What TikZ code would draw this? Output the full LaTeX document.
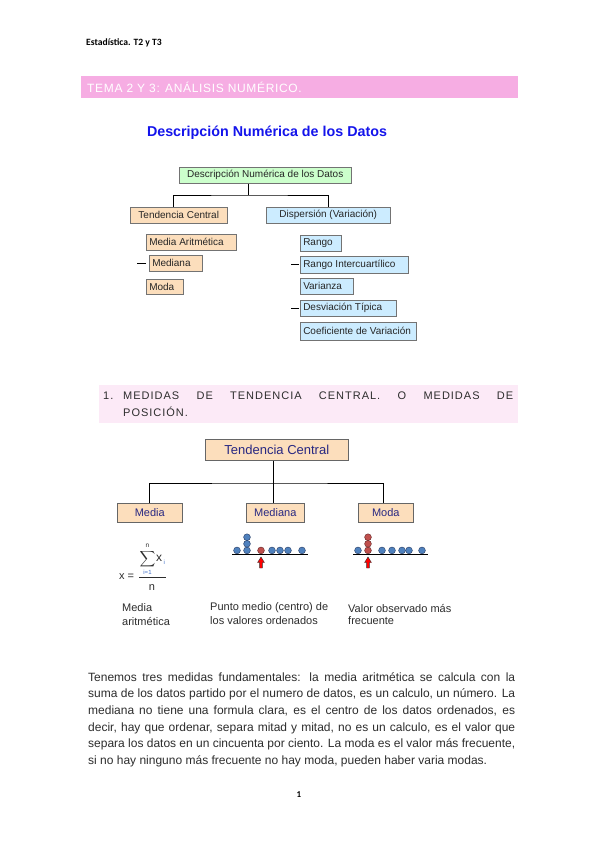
\documentclass[tikz,border=0pt]{standalone}
\usepackage{amsmath}
\usepackage{fontspec}
\setmainfont{Liberation Sans}
\newfontfamily\hdrfont{Carlito}
\newfontfamily\bandfont[LetterSpace=5.5]{Liberation Sans}
\newfontfamily\secfont[LetterSpace=9]{Liberation Sans}
\usetikzlibrary{calc}
\definecolor{bandpink}{RGB}{246,173,227}
\definecolor{secpink}{RGB}{252,234,247}
\definecolor{titleblue}{RGB}{20,20,235}
\definecolor{boxgreen}{RGB}{204,255,204}
\definecolor{boxpeach}{RGB}{252,222,188}
\definecolor{boxblue}{RGB}{204,236,255}
\definecolor{navy}{RGB}{40,40,130}
\definecolor{dotblue}{RGB}{79,129,189}
\definecolor{dotblueline}{RGB}{35,55,95}
\definecolor{dotred}{RGB}{192,80,77}
\definecolor{dotredline}{RGB}{95,35,35}
\definecolor{txt}{RGB}{45,45,45}
\definecolor{subblue}{RGB}{60,110,200}
\newcommand\dotB[2]{\filldraw[fill=dotblue,draw=dotblueline,line width=0.4pt] (#1,#2) circle[radius=3.4];}
\newcommand\dotR[2]{\filldraw[fill=dotred,draw=dotredline,line width=0.4pt] (#1,#2) circle[radius=3.4];}
\newcommand\upArr[1]{\filldraw[fill=red,draw=black!80,line width=0.4pt] (#1-1.4,568) -- (#1-1.4,562.5) -- (#1-3.4,562.5) -- (#1,557) -- (#1+3.4,562.5) -- (#1+1.4,562.5) -- (#1+1.4,568) -- cycle;}
\tikzset{
  txtnode/.style={inner sep=0pt, anchor=west, text=txt},
  dbox/.style={draw=black!55, line width=0.5pt, anchor=north west, inner xsep=3pt, inner ysep=0pt, font=\fontsize{10}{12}\selectfont, text=black!85},
  ebox/.style={draw=black!60, line width=0.6pt, anchor=north west, inner sep=0pt, fill=boxpeach, text=navy},
  conn/.style={draw=black, line width=0.8pt},
  para/.style={inner sep=0pt, anchor=west, text=txt, font=\fontsize{12}{14}\selectfont},
  capt/.style={inner sep=0pt, anchor=west, text=txt, font=\fontsize{11}{13}\selectfont},
}
\begin{document}
\begin{tikzpicture}[x=1pt,y=-1pt]
\useasboundingbox (0,0) rectangle (599,848);
\fill[white] (0,0) rectangle (599,848);

% header
\node[inner sep=0pt, anchor=west, text=black, font=\hdrfont\bfseries\fontsize{9.6}{11}\selectfont] (hdr) at (86,43) {Estadística. T2 y T3};

% pink band
\fill[bandpink] (81,76) rectangle (518,98);
\node[inner sep=0pt, anchor=west, text=white, font=\bandfont\fontsize{12}{14}\selectfont] (band) at (87,87.5) {TEMA 2 Y 3: ANÁLISIS NUMÉRICO.};

% title
\node[inner sep=0pt, text=titleblue, font=\bfseries\fontsize{14.3}{16}\selectfont] (title) at (267,133) {Descripción Numérica de los Datos};

% diagram 1
\node[dbox, fill=boxgreen, minimum width=172pt, minimum height=16pt] (desc) at (179,167) {Descripción Numérica de los Datos};
\node[dbox, fill=boxpeach, minimum width=97pt, minimum height=16pt] (tc) at (130,207) {Tendencia Central};
\node[dbox, fill=boxblue, minimum width=124pt, minimum height=16pt] (disp) at (266,207) {Dispersión (Variación)};

\node[dbox, fill=boxpeach, minimum height=16pt] (ma) at (146,234) {\makebox[84pt][l]{Media Aritmética}};
\node[dbox, fill=boxpeach, minimum height=16pt] (med) at (149,255) {\makebox[47pt][l]{Mediana}};
\node[dbox, fill=boxpeach, minimum height=15pt] (moda) at (146,279) {\makebox[31pt][l]{Moda}};

\node[dbox, fill=boxblue, minimum height=16pt] (rango) at (300,235) {\makebox[35pt][l]{Rango}};
\node[dbox, fill=boxblue, minimum height=17pt] (ri) at (300,256) {\makebox[102pt][l]{Rango Intercuartílico}};
\node[dbox, fill=boxblue, minimum height=16pt] (var) at (300,278) {\makebox[47pt][l]{Varianza}};
\node[dbox, fill=boxblue, minimum height=16pt] (dt) at (300,300) {\makebox[90pt][l]{Desviación Típica}};
\node[dbox, fill=boxblue, minimum height=18pt] (cv) at (300,322) {\makebox[110pt][l]{Coeficiente de Variación}};

\coordinate (j1) at (248,195);
\draw[line width=0.7pt] (j1 |- desc.south) -- (j1);
\draw[line width=0.7pt] ([xshift=-5.5pt]tc.north) |- (j1) -| (disp.north);

\draw[line width=0.7pt] ([xshift=-3pt]med.west) -- ++(-9,0);
\draw[line width=0.7pt] ([xshift=-1pt]ri.west) -- ++(-8,0);
\draw[line width=0.7pt] ([xshift=-1pt]dt.west) -- ++(-8,0);

% section heading
\fill[secpink] (99,385) rectangle (518,423);
\node[inner sep=0pt, anchor=west, text=txt, font=\secfont\fontsize{11}{13}\selectfont] (sec1) at (103,395.5) {1.};
\node[inner sep=0pt, anchor=west, text=txt, font=\secfont\fontsize{11}{13}\selectfont] (sec2) at (123,395.5) {\makebox[390pt][s]{MEDIDAS DE TENDENCIA CENTRAL. O MEDIDAS DE}};
\node[inner sep=0pt, anchor=west, text=txt, font=\secfont\fontsize{11}{13}\selectfont] (sec3) at (123,411.5) {POSICIÓN.};

% diagram 2
\node[ebox, minimum width=143pt, minimum height=21pt, font=\fontsize{13}{15}\selectfont] (tc2) at (205,439) {Tendencia Central};
\node[ebox, minimum width=65pt, minimum height=19pt, font=\fontsize{11}{13}\selectfont] (media) at (117,503) {Media};
\node[ebox, minimum width=58pt, minimum height=19pt, font=\fontsize{11}{13}\selectfont] (mediana) at (246,503) {Mediana};
\node[ebox, minimum width=55pt, minimum height=19pt, font=\fontsize{11}{13}\selectfont] (moda2) at (358,503) {Moda};

\coordinate (j2) at (273,483);
\draw[line width=0.7pt] (j2 |- tc2.south) -- (j2);
\draw[line width=0.7pt] (media.north) |- (j2) -| ([xshift=-2.5pt]moda2.north);
\draw[line width=0.7pt] (j2) -- (j2 |- mediana.north);

% dots - mediana
\draw[line width=0.9pt] (232,554) -- (308,554);
\dotB{237}{550.4}
\dotB{247}{550.4}\dotB{247}{543.8}\dotB{247}{537.2}
\dotR{261}{550.4}
\dotB{272}{550.4}\dotB{280}{550.4}\dotB{288}{550.4}\dotB{302}{550.4}
\upArr{261}

% dots - moda
\draw[line width=0.9pt] (353,554) -- (428,554);
\dotB{358}{550.4}
\dotR{368}{550.4}\dotR{368}{543.8}\dotR{368}{537.2}
\dotB{382}{550.4}\dotB{392}{550.4}\dotB{402}{550.4}\dotB{409}{550.4}\dotB{422}{550.4}
\upArr{368}

% formula
\node[inner sep=0pt, anchor=west, text=txt, font=\fontsize{11}{13}\selectfont] (xeq) at (119,577) {x =};
\node[inner sep=0pt, text=txt] (sig) at (147.5,559.5) {\fontsize{11}{13}\selectfont$\displaystyle\sum$};
\node[inner sep=0pt, text=txt, font=\fontsize{6.5}{8}\selectfont] (nup) at (147.5,546) {n};
\node[inner sep=0pt, text=subblue, font=\fontsize{6}{7}\selectfont] (ieq) at (147.5,572.5) {i=1};
\node[inner sep=0pt, anchor=west, text=txt, font=\fontsize{12}{14}\selectfont] (xi) at (156,558.5) {x};
\node[inner sep=0pt, anchor=west, text=subblue, font=\fontsize{6}{7}\selectfont] (isub) at (163.5,562) {i};
\coordinate (fb1) at (139,577);
\coordinate (fb2) at (166,577);
\draw[line width=0.5pt, txt] (fb1) -- (fb2);
\node[inner sep=0pt, text=txt, font=\fontsize{11}{13}\selectfont] (nden) at (152,588) {n};

% captions
\node[capt] (c1a) at (122,608) {Media};
\node[capt] (c1b) at (122,621) {aritmética};
\node[capt] (c2a) at (210,608) {Punto medio (centro) de};
\node[capt] (c2b) at (210,621) {los valores ordenados};
\node[capt] (c3a) at (348,608) {Valor observado más};
\node[capt] (c3b) at (348,621) {frecuente};

% paragraph
\node[para] (p1) at (88,677.5) {\makebox[427pt][s]{Tenemos tres medidas fundamentales: la media aritmética se calcula con la}};
\node[para] (p2) at (88,694.3) {\makebox[427pt][s]{suma de los datos partido por el numero de datos, es un calculo, un número. La}};
\node[para] (p3) at (88,711.1) {\makebox[427pt][s]{mediana no tiene una formula clara, es el centro de los datos ordenados, es}};
\node[para] (p4) at (88,727.9) {\makebox[427pt][s]{decir, hay que ordenar, separa mitad y mitad, no es un calculo, es el valor que}};
\node[para] (p5) at (88,744.7) {\makebox[427pt][s]{separa los datos en un cincuenta por ciento. La moda es el valor más frecuente,}};
\node[para] (p6) at (88,761.5) {si no hay ninguno más frecuente no hay moda, pueden haber varia modas.};

% page number
\node[inner sep=0pt, text=black, font=\hdrfont\bfseries\fontsize{9}{11}\selectfont] (pg) at (299,795) {1};
\end{tikzpicture}
\end{document}
